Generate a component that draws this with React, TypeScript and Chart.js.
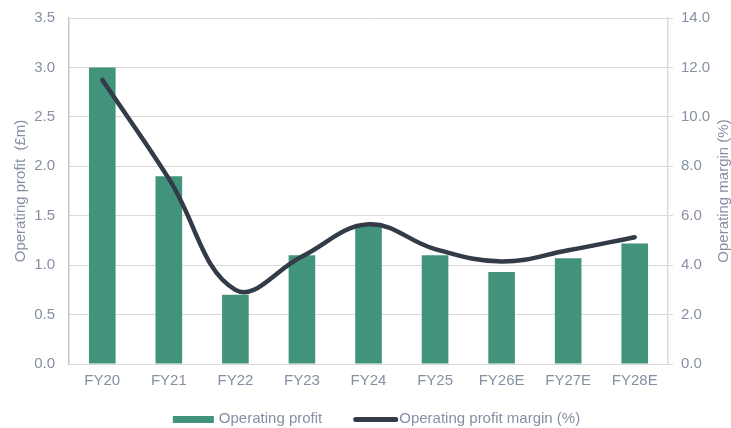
import React, { useEffect, useRef } from "react";
import { Chart, registerables } from "chart.js";

Chart.register(...registerables);

const categories = ["FY20", "FY21", "FY22", "FY23", "FY24", "FY25", "FY26E", "FY27E", "FY28E"];
const operatingProfit = [3.0, 1.9, 0.7, 1.1, 1.4, 1.1, 0.93, 1.07, 1.22];
const operatingMargin = [11.5, 7.5, 3.0, 4.35, 5.65, 4.65, 4.15, 4.6, 5.13];
const leftTicks = [0, 0.5, 1.0, 1.5, 2.0, 2.5, 3.0, 3.5];
const rightTicks = [0, 2, 4, 6, 8, 10, 12, 14];
const leftTitle = "Operating profit  (£m)";
const rightTitle = "Operating margin (%)";

const FONT = "'Liberation Sans', Arial, sans-serif";
const TEXT = "#8590a3";
const GRID = "#d9d9d9";
const BAR = "#42937b";
const LINE = "#333b49";

const customPlugin = {
  id: "customLegendAndTitle",
  afterDraw(chart: any) {
    const ctx = chart.ctx as CanvasRenderingContext2D;
    const area = chart.chartArea;
    ctx.save();
    // right axis title, reading bottom-to-top
    ctx.font = `15px ${FONT}`;
    ctx.fillStyle = TEXT;
    ctx.textAlign = "center";
    ctx.textBaseline = "middle";
    ctx.translate(chart.width - 7, (area.top + area.bottom) / 2);
    ctx.rotate(-Math.PI / 2);
    ctx.fillText(rightTitle, 0, 0);
    ctx.restore();

    // legend
    ctx.save();
    ctx.font = `15px ${FONT}`;
    ctx.textAlign = "left";
    ctx.textBaseline = "middle";
    const ds = chart.data.datasets;
    const boxW = 41;
    const gap = 5;
    const between = 31;
    const widths = ds.map((d: any) => boxW + gap + ctx.measureText(d.label).width);
    const total = widths.reduce((a: number, b: number) => a + b, 0) + between * (ds.length - 1);
    let x = (area.left + area.right) / 2 + 8 - total / 2;
    const y = chart.height - 8.5;
    ds.forEach((d: any, i: number) => {
      if (d.type === "line") {
        ctx.strokeStyle = d.borderColor;
        ctx.lineWidth = 5;
        ctx.lineCap = "round";
        ctx.beginPath();
        ctx.moveTo(x + 2.5, y);
        ctx.lineTo(x + boxW + 1.5, y);
        ctx.stroke();
      } else {
        ctx.fillStyle = d.backgroundColor;
        ctx.fillRect(x, y - 3.5, boxW, 7);
      }
      ctx.fillStyle = TEXT;
      ctx.fillText(d.label, x + boxW + gap, y - 0.5);
      x += widths[i] + between;
    });
    ctx.restore();
  },
};

const noPad = (axis: any) => {
  axis.paddingTop = 0;
  axis.paddingBottom = 0;
  axis.paddingLeft = 0;
  axis.paddingRight = 0;
};

export default function App() {
  const ref = useRef<HTMLCanvasElement>(null);
  useEffect(() => {
    if (!ref.current) return;
    const chart = new Chart(ref.current, {
      type: "bar",
      data: {
        labels: categories,
        datasets: [
          {
            type: "bar",
            label: "Operating profit",
            data: operatingProfit,
            backgroundColor: BAR,
            borderWidth: 0,
            yAxisID: "y",
            barPercentage: 0.8,
            categoryPercentage: 0.5,
            order: 2,
          },
          {
            type: "line",
            label: "Operating profit margin (%)",
            data: operatingMargin,
            borderColor: LINE,
            backgroundColor: LINE,
            borderWidth: 4.5,
            pointRadius: 0,
            tension: 0.4,
            yAxisID: "y1",
            order: 1,
            borderCapStyle: "round",
          } as any,
        ],
      },
      plugins: [customPlugin],
      options: {
        animation: false,
        responsive: false,
        maintainAspectRatio: false,
        layout: { padding: { left: 8, right: 0, top: 18, bottom: 30 } },
        plugins: {
          tooltip: { enabled: false },
          legend: { display: false },
        },
        scales: {
          x: {
            grid: { display: false, drawTicks: false },
            border: { color: GRID, width: 1 },
            ticks: { color: TEXT, font: { family: FONT, size: 15 }, padding: 8 },
            afterFit: (axis: any) => {
              noPad(axis);
              axis.height = 34;
            },
          },
          y: {
            position: "left",
            min: 0,
            max: 3.5,
            afterBuildTicks: (axis: any) => {
              axis.ticks = leftTicks.map((v) => ({ value: v }));
            },
            afterFit: (axis: any) => {
              noPad(axis);
              axis.width = 61;
            },
            ticks: {
              color: TEXT,
              font: { family: FONT, size: 15 },
              padding: 14,
              callback: (v: any) => Number(v).toFixed(1),
            },
            grid: { color: GRID, drawTicks: false },
            border: { color: "#c8c8c8", width: 1.5 },
            title: {
              display: true,
              text: leftTitle,
              color: TEXT,
              font: { family: FONT, size: 15 },
              padding: 4,
            },
          },
          y1: {
            position: "right",
            min: 0,
            max: 14,
            afterBuildTicks: (axis: any) => {
              axis.ticks = rightTicks.map((v) => ({ value: v }));
            },
            afterFit: (axis: any) => {
              noPad(axis);
              axis.width = 63;
            },
            ticks: {
              color: TEXT,
              font: { family: FONT, size: 15 },
              padding: 8,
              callback: (v: any) => Number(v).toFixed(1),
            },
            grid: { drawOnChartArea: false, drawTicks: true, tickLength: 5, color: GRID },
            border: { color: GRID, width: 1.5 },
          },
        },
      },
    });
    return () => chart.destroy();
  }, []);
  return (
    <div style={{ position: "fixed", left: 0, top: 0, width: 731, height: 428, background: "#fff" }}>
      <canvas ref={ref} width={731} height={428} style={{ width: 731, height: 428 }} />
    </div>
  );
}
